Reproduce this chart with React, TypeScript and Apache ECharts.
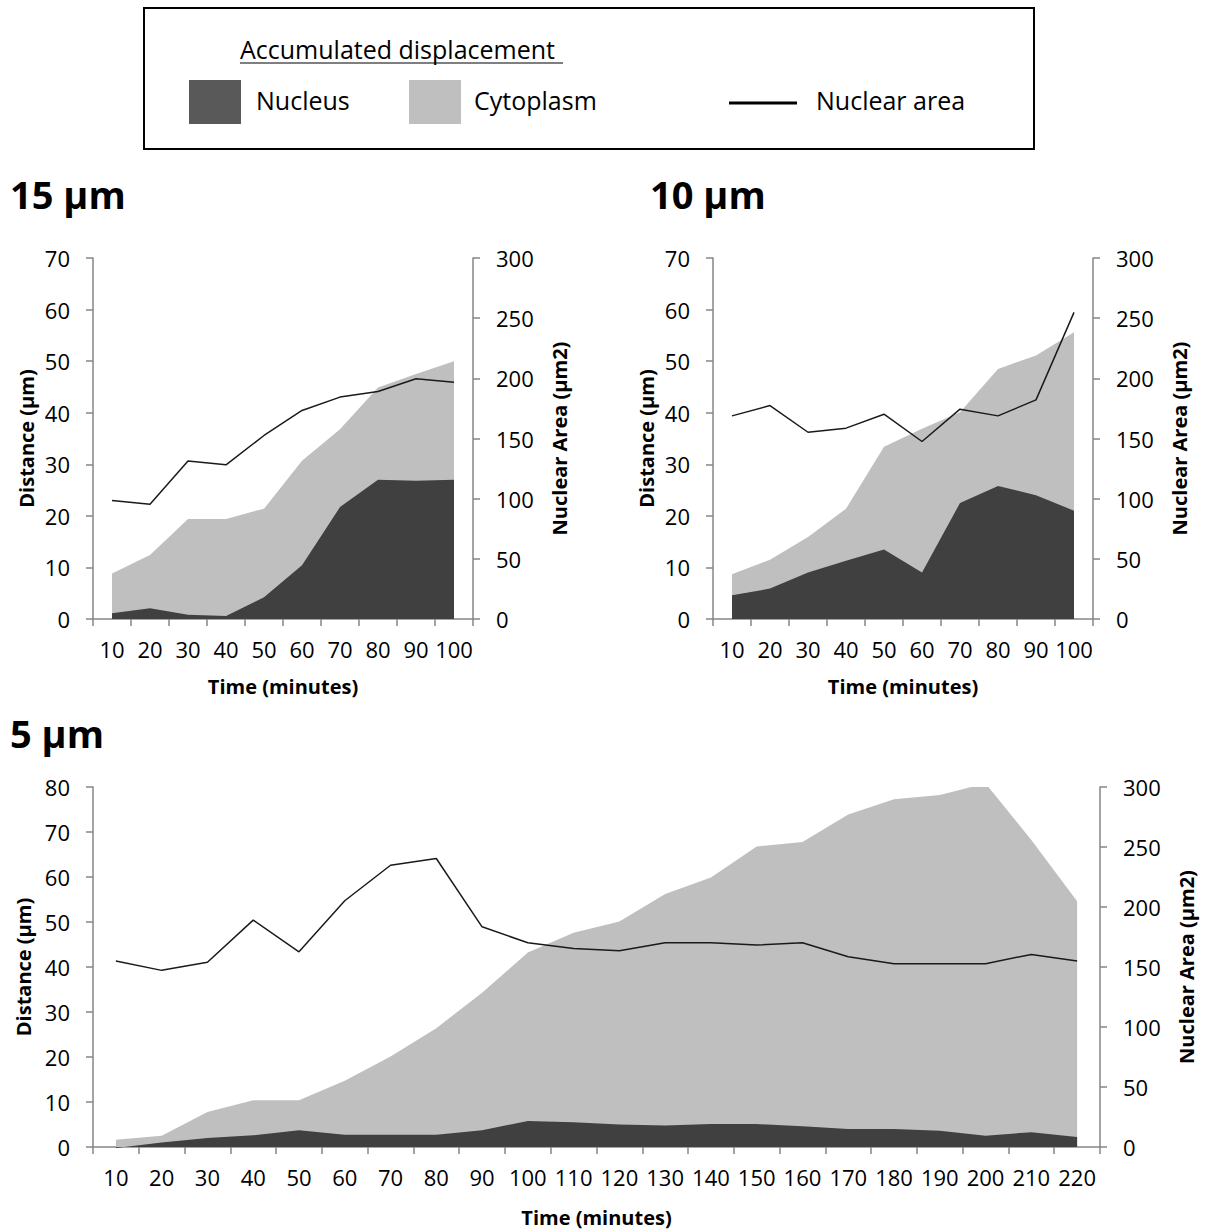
import React, { useEffect, useRef } from "react";
import * as echarts from "echarts";

// ---------- data ----------
const times15 = ["10", "20", "30", "40", "50", "60", "70", "80", "90", "100"];
const nucleus15 = [1.1, 2.1, 0.8, 0.6, 4.2, 10.4, 21.7, 27.0, 26.8, 27.0];
const cytoplasm15 = [8.8, 12.4, 19.4, 19.4, 21.4, 30.7, 36.8, 44.9, 47.5, 50.0];
const area15 = [98.4, 95.4, 131.4, 128.1, 152.5, 173.3, 184.4, 189.1, 199.6, 196.8];

const times10 = ["10", "20", "30", "40", "50", "60", "70", "80", "90", "100"];
const nucleus10 = [4.6, 5.9, 9.0, 11.3, 13.5, 9.0, 22.5, 25.8, 24.0, 21.0];
const cytoplasm10 = [8.7, 11.5, 15.9, 21.4, 33.4, 36.9, 40.1, 48.5, 51.1, 55.6];
const area10 = [168.8, 177.4, 155.2, 158.6, 170.2, 147.5, 174.4, 168.8, 182.1, 254.8];

const times5 = [
  "10", "20", "30", "40", "50", "60", "70", "80", "90", "100", "110",
  "120", "130", "140", "150", "160", "170", "180", "190", "200", "210", "220",
];
const nucleus5 = [
  -0.2, 1.0, 2.0, 2.6, 3.7, 2.7, 2.7, 2.7, 3.7, 5.8, 5.5,
  5.0, 4.8, 5.1, 5.1, 4.6, 4.0, 4.0, 3.6, 2.5, 3.3, 2.2,
];
const cytoplasm5 = [
  1.6, 2.5, 7.8, 10.4, 10.4, 14.7, 20.1, 26.4, 34.3, 43.2, 47.6,
  50.1, 56.2, 59.9, 66.8, 67.8, 73.9, 77.3, 78.2, 80.8, 68.2, 54.6,
];
const area5 = [
  155.0, 147.2, 153.9, 189.1, 162.7, 205.2, 234.8, 240.4, 183.5, 170.2, 165.5,
  163.5, 170.2, 170.2, 168.3, 170.2, 158.6, 152.8, 152.8, 152.8, 160.5, 155.0,
];

const leftTicks15 = { min: 0, max: 70, interval: 10 };
const leftTicks5 = { min: 0, max: 80, interval: 10 };
const rightTicks = { min: 0, max: 300, interval: 50 };

// ---------- style ----------
const FONT = "'Open Sans', 'Liberation Sans', sans-serif";
const AXIS_COLOR = "#868686";
const DARK = "#404040";
const LIGHT = "#BFBFBF";
const TEXT = "#000000";

function xAxisOf(gridIndex: number, data: string[], nameGap: number) {
  return {
    type: "category",
    gridIndex,
    data,
    boundaryGap: true,
    name: "Time (minutes)",
    nameLocation: "middle",
    nameGap,
    nameTextStyle: { fontFamily: FONT, fontSize: 20, fontWeight: "bold", color: TEXT },
    axisLine: { show: true, lineStyle: { color: AXIS_COLOR, width: 1.5 } },
    axisTick: { show: true, length: 7, lineStyle: { color: AXIS_COLOR, width: 1.5 } },
    axisLabel: { fontFamily: FONT, fontSize: 22, color: TEXT, margin: 19, interval: 0 },
    splitLine: { show: false },
  };
}

function leftAxisOf(gridIndex: number, t: { min: number; max: number; interval: number }) {
  return {
    type: "value",
    gridIndex,
    position: "left",
    min: t.min,
    max: t.max,
    interval: t.interval,
    name: "Distance (µm)",
    nameLocation: "middle",
    nameRotate: 90,
    nameGap: 57,
    nameTextStyle: { fontFamily: FONT, fontSize: 20, fontWeight: "bold", color: TEXT },
    axisLine: { show: true, lineStyle: { color: AXIS_COLOR, width: 1.5 } },
    axisTick: { show: true, length: 7, lineStyle: { color: AXIS_COLOR, width: 1.5 } },
    axisLabel: { fontFamily: FONT, fontSize: 22, color: TEXT, margin: 23 },
    splitLine: { show: false },
  };
}

function rightAxisOf(gridIndex: number) {
  return {
    type: "value",
    gridIndex,
    position: "right",
    min: rightTicks.min,
    max: rightTicks.max,
    interval: rightTicks.interval,
    name: "Nuclear Area (µm2)",
    nameLocation: "middle",
    nameRotate: 90,
    nameGap: 76,
    nameTextStyle: { fontFamily: FONT, fontSize: 20, fontWeight: "bold", color: TEXT },
    axisLine: { show: true, lineStyle: { color: AXIS_COLOR, width: 1.5 } },
    axisTick: { show: true, length: 7, lineStyle: { color: AXIS_COLOR, width: 1.5 } },
    axisLabel: { fontFamily: FONT, fontSize: 22, color: TEXT, margin: 23 },
    splitLine: { show: false },
  };
}

function seriesOf(
  axisIndexBase: number,
  xIndex: number,
  cyto: number[],
  nuc: number[],
  area: number[],
) {
  return [
    {
      type: "line",
      name: "Cytoplasm",
      xAxisIndex: xIndex,
      yAxisIndex: axisIndexBase,
      data: cyto,
      showSymbol: false,
      symbol: "none",
      lineStyle: { width: 0, color: LIGHT },
      itemStyle: { color: LIGHT },
      areaStyle: { color: LIGHT, opacity: 1 },
      z: 1,
      clip: true,
    },
    {
      type: "line",
      name: "Nucleus",
      xAxisIndex: xIndex,
      yAxisIndex: axisIndexBase,
      data: nuc,
      showSymbol: false,
      symbol: "none",
      lineStyle: { width: 0, color: DARK },
      itemStyle: { color: DARK },
      areaStyle: { color: DARK, opacity: 1, origin: 0 },
      z: 2,
      clip: false,
    },
    {
      type: "line",
      name: "Nuclear area",
      xAxisIndex: xIndex,
      yAxisIndex: axisIndexBase + 1,
      data: area,
      showSymbol: false,
      symbol: "none",
      lineStyle: { width: 1.5, color: "#1a1a1a" },
      itemStyle: { color: "#1a1a1a" },
      z: 3,
    },
  ];
}

function titleText(text: string, x: number, y: number) {
  return {
    type: "text",
    left: x,
    top: y,
    style: {
      text,
      fontFamily: FONT,
      fontSize: 38,
      fontWeight: "bold",
      fill: TEXT,
    },
  };
}

export default function App() {
  const ref = useRef<HTMLDivElement>(null);

  useEffect(() => {
    document.body.style.margin = "0";
    if (!ref.current) return;
    const chart = echarts.init(ref.current, undefined, { renderer: "svg" });

    const legendText = (text: string, x: number, y: number) => ({
      type: "text",
      x,
      y,
      style: {
        text,
        fontFamily: FONT,
        fontSize: 25,
        fill: TEXT,
        textVerticalAlign: "middle",
        verticalAlign: "middle",
      },
    });

    const option = {
      animation: false,
      backgroundColor: "#ffffff",
      grid: [
        { left: 93, top: 258, width: 380, height: 361 },
        { left: 713, top: 258, width: 380, height: 361 },
        { left: 93, top: 787, width: 1007, height: 360 },
      ],
      xAxis: [xAxisOf(0, times15, 57), xAxisOf(1, times10, 57), xAxisOf(2, times5, 60)],
      yAxis: [
        leftAxisOf(0, leftTicks15),
        rightAxisOf(0),
        leftAxisOf(1, leftTicks15),
        rightAxisOf(1),
        leftAxisOf(2, leftTicks5),
        rightAxisOf(2),
      ],
      series: [
        ...seriesOf(0, 0, cytoplasm15, nucleus15, area15),
        ...seriesOf(2, 1, cytoplasm10, nucleus10, area10),
        ...seriesOf(4, 2, cytoplasm5, nucleus5, area5),
      ],
      graphic: [
        {
          type: "rect",
          shape: { x: 144, y: 8, width: 890, height: 141 },
          style: { fill: "none", stroke: "#000", lineWidth: 2 },
        },
        legendText("Accumulated displacement", 240, 49),
        {
          type: "line",
          shape: { x1: 240, y1: 63, x2: 563, y2: 63 },
          style: { stroke: "#000", lineWidth: 1.2 },
        },
        {
          type: "rect",
          shape: { x: 189, y: 80, width: 52, height: 44 },
          style: { fill: "#595959" },
        },
        legendText("Nucleus", 256, 100),
        {
          type: "rect",
          shape: { x: 409, y: 80, width: 52, height: 44 },
          style: { fill: LIGHT },
        },
        legendText("Cytoplasm", 474, 100),
        {
          type: "line",
          shape: { x1: 729, y1: 103, x2: 797, y2: 103 },
          style: { stroke: "#000", lineWidth: 3 },
        },
        legendText("Nuclear area", 816, 100),
        titleText("15 µm", 10, 175),
        titleText("10 µm", 650, 175),
        titleText("5 µm", 10, 714),
      ],
    };

    chart.setOption(option as any);
    return () => chart.dispose();
  }, []);

  return <div ref={ref} style={{ width: 1205, height: 1229 }} />;
}
